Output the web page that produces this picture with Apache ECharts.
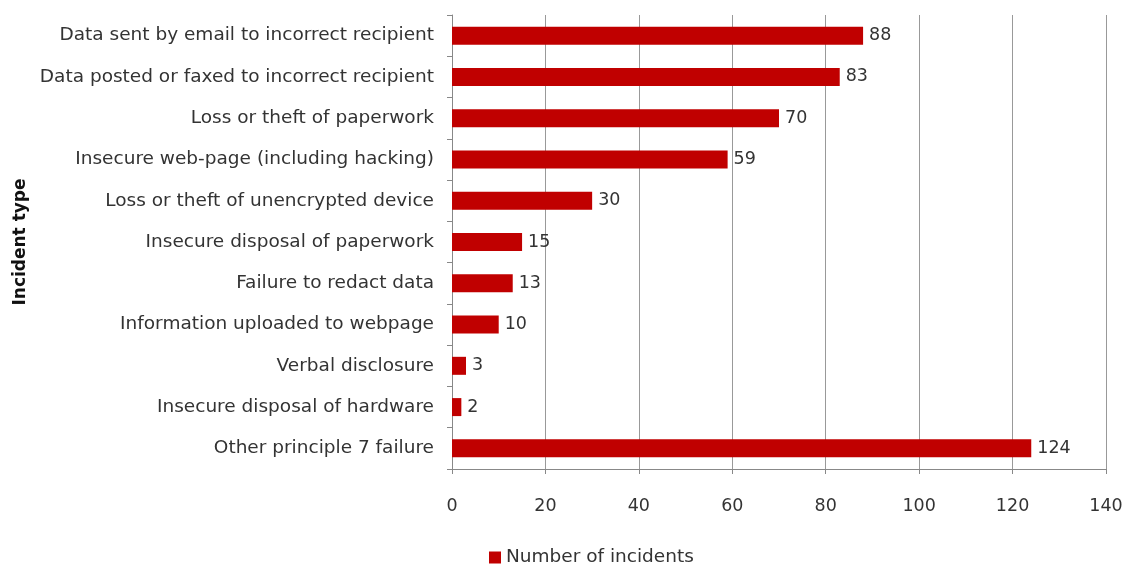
<!DOCTYPE html>
<html><head><meta charset="utf-8">
<script src="https://cdn.jsdelivr.net/npm/echarts@6/dist/echarts.min.js"></script>
<style>html,body{margin:0;padding:0;background:#fff}#c{width:1135px;height:565px}</style>
</head><body><div id="c"></div>
<script>
const categories = [
  "Data sent by email to incorrect recipient",
  "Data posted or faxed to incorrect recipient",
  "Loss or theft of paperwork",
  "Insecure web-page (including hacking)",
  "Loss or theft of unencrypted device",
  "Insecure disposal of paperwork",
  "Failure to redact data",
  "Information uploaded to webpage",
  "Verbal disclosure",
  "Insecure disposal of hardware",
  "Other principle 7 failure"
];
const incidents = [88, 83, 70, 59, 30, 15, 13, 10, 3, 2, 124];
const seriesName = "Number of incidents";
const axisTitle = "Incident type";

const FONT = "DejaVu Sans";
const chart = echarts.init(document.getElementById('c'));
chart.setOption({
  animation: false,
  textStyle: {fontFamily: FONT},
  grid: {left: 452, right: 29, top: 15, bottom: 96, containLabel: false},
  legend: {
    data: [seriesName], left: 484, top: 543, itemWidth: 12, itemHeight: 12, itemGap: 5,
    icon: 'rect',
    textStyle: {fontSize: 18.5, color: '#333', fontFamily: FONT}
  },
  xAxis: {
    type: 'value', min: 0, max: 140, interval: 20,
    axisLine: {show: true, lineStyle: {color: '#888'}},
    axisTick: {show: true, length: 5, inside: false, lineStyle: {color: '#888'}},
    axisLabel: {fontSize: 17.5, color: '#333', margin: 28, fontFamily: FONT},
    splitLine: {show: true, lineStyle: {color: '#999', width: 1}}
  },
  yAxis: {
    type: 'category', data: categories, inverse: true,
    name: axisTitle, nameLocation: 'middle', nameGap: 420, nameRotate: 90,
    nameTextStyle: {fontSize: 17, fontWeight: 'bold', color: '#111', fontFamily: FONT},
    axisLine: {show: true, lineStyle: {color: '#888'}},
    axisTick: {show: true, length: 5, lineStyle: {color: '#888'}},
    axisLabel: {fontSize: 18.5, color: '#333', margin: 18, fontFamily: FONT}
  },
  series: [{
    name: seriesName, type: 'bar', data: incidents,
    barWidth: 18,
    itemStyle: {color: '#C00000'},
    label: {show: true, position: 'right', distance: 6, fontSize: 17.5, color: '#333', fontFamily: FONT}
  }]
});
</script></body></html>
